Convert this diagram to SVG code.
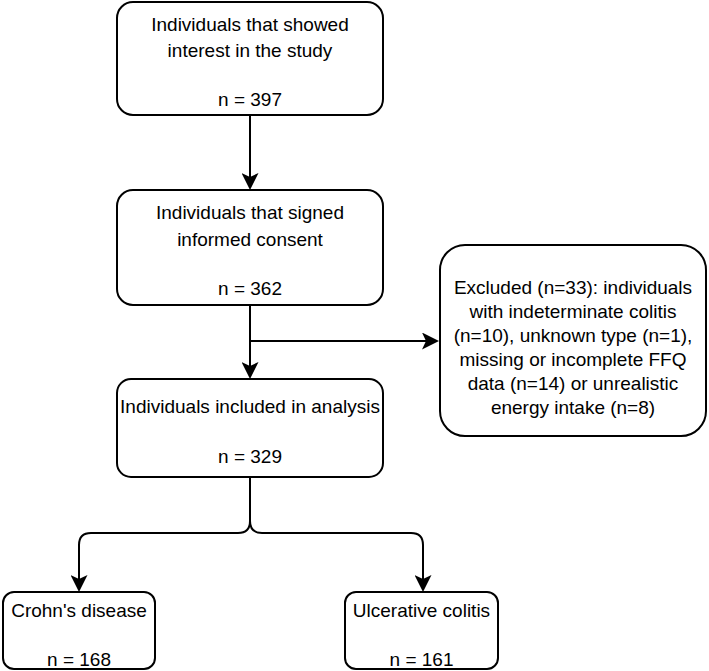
<svg xmlns="http://www.w3.org/2000/svg" width="709" height="671" viewBox="0 0 709 671">
  <style>
    .box { fill: #ffffff; stroke: #000000; stroke-width: 2; }
    .lbl { font-family: "Liberation Sans", Arial, Helvetica, sans-serif; font-size: 19px; fill: #000000; text-anchor: middle; }
    .edge { fill: none; stroke: #000000; stroke-width: 2; }
  </style>
  <defs>
    <marker id="arrow" markerUnits="userSpaceOnUse" markerWidth="17" markerHeight="17" viewBox="0 0 17 17" refX="13" refY="8.5" orient="auto">
      <path d="M0,0 L17,8.5 L0,17 L4,8.5 Z" fill="#000000"/>
    </marker>
  </defs>
  <rect width="709" height="671" fill="#ffffff"/>

  <g id="connectors">
    <path class="edge" d="M250,115 V186" marker-end="url(#arrow)"/>
    <path class="edge" d="M250,305 V375" marker-end="url(#arrow)"/>
    <path class="edge" d="M250,341 H435" marker-end="url(#arrow)"/>
    <path class="edge" d="M250,477 V521 Q250,533 238,533 H91 Q79,533 79,545 V588" marker-end="url(#arrow)"/>
    <path class="edge" d="M250,477 V521 Q250,533 262,533 H411 Q423,533 423,545 V588" marker-end="url(#arrow)"/>
  </g>

  <g id="node-interest">
    <rect class="box" x="117" y="2" width="266" height="113" rx="16" ry="16"/>
    <text class="lbl" x="250" y="30.5">Individuals that showed</text>
    <text class="lbl" x="250" y="57">interest in the study</text>
    <text class="lbl" x="250" y="106">n = 397</text>
  </g>

  <g id="node-consent">
    <rect class="box" x="117" y="190" width="266" height="115" rx="16" ry="16"/>
    <text class="lbl" x="250" y="219">Individuals that signed</text>
    <text class="lbl" x="250" y="246">informed consent</text>
    <text class="lbl" x="250" y="295">n = 362</text>
  </g>

  <g id="node-excluded">
    <rect class="box" x="440" y="245" width="266" height="191" rx="25" ry="25"/>
    <text class="lbl" x="573" y="294">Excluded (n=33): individuals</text>
    <text class="lbl" x="573" y="318">with indeterminate colitis</text>
    <text class="lbl" x="573" y="342">(n=10), unknown type (n=1),</text>
    <text class="lbl" x="573" y="366">missing or incomplete FFQ</text>
    <text class="lbl" x="573" y="390">data (n=14) or unrealistic</text>
    <text class="lbl" x="573" y="414">energy intake (n=8)</text>
  </g>

  <g id="node-included">
    <rect class="box" x="117" y="379" width="266" height="98" rx="14" ry="14"/>
    <text class="lbl" x="250" y="413">Individuals included in analysis</text>
    <text class="lbl" x="250" y="463">n = 329</text>
  </g>

  <g id="node-crohns">
    <rect class="box" x="3" y="592" width="152" height="77" rx="11" ry="11"/>
    <text class="lbl" x="79" y="617">Crohn's disease</text>
    <text class="lbl" x="79" y="666">n = 168</text>
  </g>

  <g id="node-uc">
    <rect class="box" x="345" y="592" width="153" height="77" rx="11" ry="11"/>
    <text class="lbl" x="421.5" y="617">Ulcerative colitis</text>
    <text class="lbl" x="421.5" y="666">n = 161</text>
  </g>
</svg>
